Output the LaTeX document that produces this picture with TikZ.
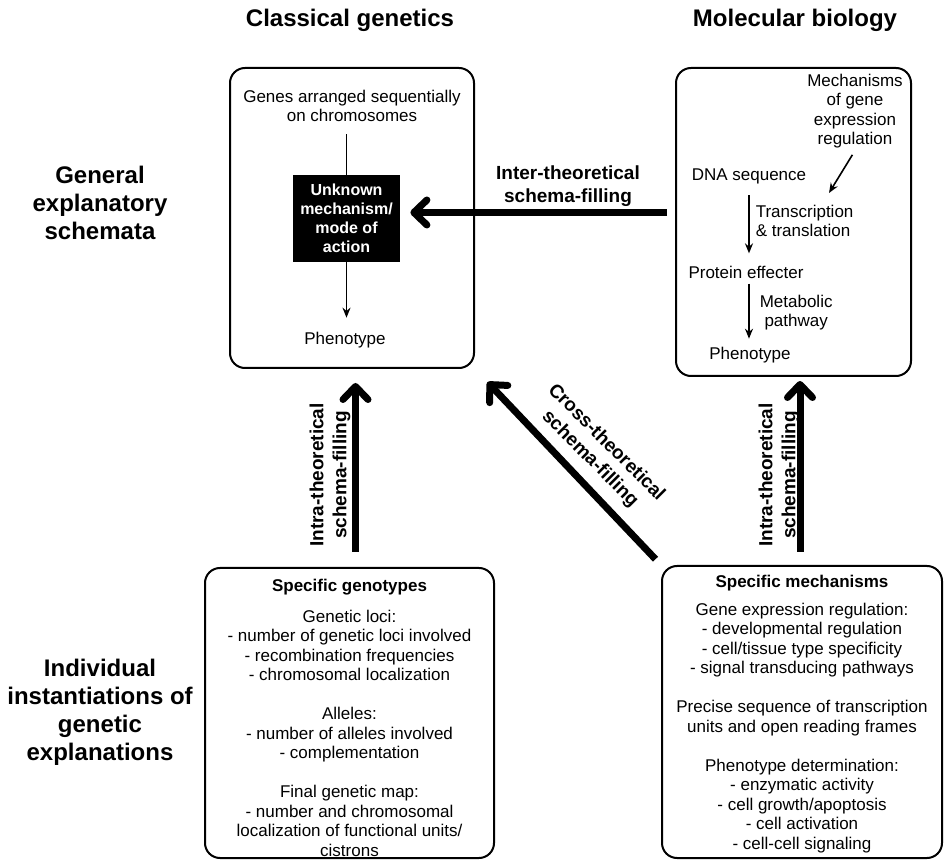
\documentclass[tikz,border=0pt]{standalone}
\usepackage{fontspec}
\setmainfont{Liberation Sans}
\usetikzlibrary{calc,arrows.meta,positioning}
\tikzset{
  frame/.style={draw,line width=1pt,rounded corners=7.5pt},
  heading/.style={font=\fontsize{12}{14}\selectfont\bfseries,align=center},
  body/.style={font=\fontsize{8.5}{9.75}\selectfont,align=center,inner sep=1pt},
  filltag/.style={font=\fontsize{9.5}{11.5}\selectfont\bfseries,align=center,inner sep=1pt},
  unknownbox/.style={fill=black,text=white,font=\fontsize{8}{9.5}\selectfont\bfseries,align=center,
    minimum width=53.5pt,minimum height=43.5pt,inner sep=1pt},
  fillarrow/.style={line width=3.5pt,-{Straight Barb[length=6.5pt,width=12.5pt,round]}},
  thinarrow/.style={line width=.8pt,-{Stealth[length=5pt,width=4pt]}},
}
\begin{document}
\begin{tikzpicture}[x=.5pt,y=-.5pt]
\useasboundingbox (0,0) rectangle (944,861);
% headings
\node[heading] (classic) at (350,20) {Classical genetics};
\node[heading] (molbio) at (795,20) {Molecular biology};
\node[heading] (general) at (100,203) {General\\explanatory\\schemata};
\node[heading] (indiv) at (100,712) {Individual\\instantiations of\\genetic\\explanations};
% frames
\node[frame,minimum width=122pt,minimum height=150pt] (tlbox) at (352,218) {};
\node[frame,minimum width=117.5pt,minimum height=154pt] (trbox) at (793.5,222) {};
\node[frame,minimum width=144.5pt,minimum height=145pt] (blbox) at (349.5,713) {};
\node[frame,minimum width=140pt,minimum height=146pt] (brbox) at (802,712) {};
% specific instantiations
\node[body] (genotypes) at ([yshift=-2.5pt]blbox.center) {\textbf{Specific genotypes}\\[5.5pt]
  Genetic loci:\\- number of genetic loci involved\\- recombination frequencies\\- chromosomal localization\\[9.75pt]
  Alleles:\\- number of alleles involved\\- complementation\\[9.75pt]
  Final genetic map:\\- number and chromosomal\\localization of functional units/\\cistrons};
\node[body] (mechanisms) at ([yshift=-1pt]brbox.center) {\textbf{Specific mechanisms}\\[4pt]
  Gene expression regulation:\\- developmental regulation\\- cell/tissue type specificity\\- signal transducing pathways\\[9.75pt]
  Precise sequence of transcription\\units and open reading frames\\[9.75pt]
  Phenotype determination:\\- enzymatic activity\\- cell growth/apoptosis\\- cell activation\\- cell-cell signaling};
% classical genetics schema
\node[body] (genes) at (352,106) {Genes arranged sequentially\\on chromosomes};
\node[unknownbox] (unk) at (346.5,218.5) {Unknown\\mechanism/\\mode of\\action};
\node[body] (phen1) at (345,340) {Phenotype};
\draw[line width=.8pt,shorten <=5pt] (genes.south -| unk.north) -- (unk.north);
\draw[thinarrow,shorten >=6pt] (unk.south) -- (unk.south |- phen1.north);
% molecular biology schema
\node[body] (mech) at (855,111) {Mechanisms\\of gene\\expression\\regulation};
\node[body] (dna) at (749,176) {DNA sequence};
\node[body] (prot) at (746,272) {Protein effecter};
\node[body] (phen2) at (750,355) {Phenotype};
\coordinate (regtip) at (829,193);
\draw[thinarrow,shorten <=2.5pt] (mech.south) -- (regtip);
\draw[thinarrow,shorten <=4.5pt,shorten >=5pt] (dna.south) -- (dna.south |- prot.north)
  node[midway,right,body,align=left,xshift=2pt,yshift=2pt] {Transcription\\\& translation};
\draw[thinarrow,shorten <=1.5pt,shorten >=3pt] (dna.south |- prot.south) -- (dna.south |- phen2.north)
  node[midway,right,body,xshift=4pt] {Metabolic\\pathway};
% schema-filling arrows
\draw[fillarrow,shorten <=4pt,shorten >=5pt] ($(unk.east -| trbox.west)+(0,-6)$) -- ($(unk.east)+(0,-6)$);
\node[filltag] (inter) at (568,186) {Inter-theoretical\\schema-filling};
\draw[fillarrow,shorten <=7.5pt,shorten >=7pt] ($(blbox.north)+(6,0)$) -- ($(blbox.north |- tlbox.south)+(6,0)$);
\node[filltag,rotate=90] (intral) at (330,475) {Intra-theoretical\\schema-filling};
\draw[fillarrow,shorten <=6.5pt,shorten >=2pt] ($(brbox.north)+(-2,0)$) -- ($(brbox.north |- trbox.south)+(-2,0)$);
\node[filltag,rotate=90] (intrar) at (779,475) {Intra-theoretical\\schema-filling};
\draw[fillarrow,shorten <=4pt,shorten >=9pt] (brbox.north west) -- (tlbox.south east);
\node[filltag,rotate=-45] (cross) at (598,451) {Cross-theoretical\\schema-filling};
\end{tikzpicture}
\end{document}
